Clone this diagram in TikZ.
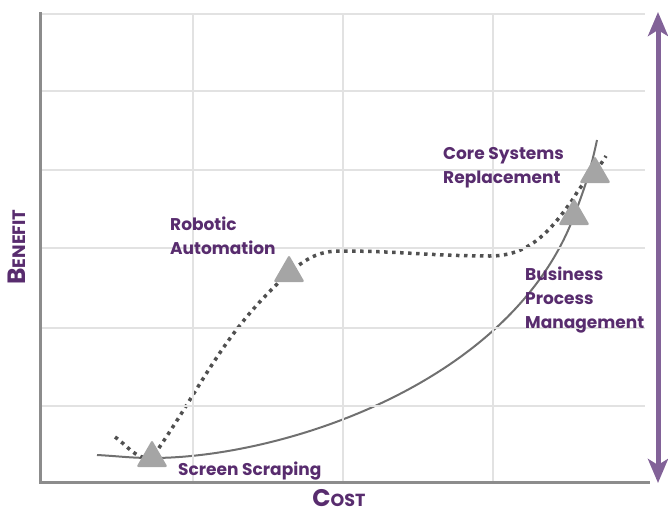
\documentclass[tikz,border=0pt]{standalone}
\usepackage{fontspec}
\setmainfont{Poppins}
\usetikzlibrary{arrows.meta,shapes.geometric}
\pgfdeclarelayer{bg}
\pgfsetlayers{bg,main}

\definecolor{plum}{RGB}{88,44,110}
\definecolor{arrowplum}{RGB}{130,98,152}
\definecolor{gridgray}{RGB}{226,226,226}
\definecolor{axisgray}{RGB}{140,140,140}
\definecolor{curvegray}{RGB}{112,112,112}
\definecolor{dotgray}{RGB}{80,80,80}
\definecolor{markgray}{RGB}{165,165,165}

\begin{document}
\begin{tikzpicture}[x=1pt,y=-1pt]
\tikzstyle{every node}=[font=\bfseries\fontsize{17}{24}\selectfont, text=plum]
\tikzstyle{grid line}=[gridgray, line width=2pt]
\tikzstyle{axis}=[axisgray, line width=3pt]
\tikzstyle{milestone}=[regular polygon, regular polygon sides=3, minimum size=36pt,
  inner sep=0pt, fill=markgray, rounded corners=2pt]
\tikzstyle{tag}=[align=left, inner sep=0pt]

\useasboundingbox (0,0) rectangle (668,513);

% grid
\foreach \y in {14,91,170,248,328,406}
  \draw[grid line] (40,\y) -- (645,\y);
\foreach \x in {193,343,493}
  \draw[grid line] (\x,14) -- (\x,482);

% axes
\draw[axis] (40,12.5) -- (40,482) -- (650,482);

\node[rotate=90, anchor=base, font=\bfseries\fontsize{25}{25}\selectfont] (benefit) at (25,247)
  {B{\fontsize{18}{18}\selectfont ENEFIT}};
\node[anchor=base, font=\bfseries\fontsize{24}{24}\selectfont] (cost) at (339,506)
  {C{\fontsize{17.5}{17.5}\selectfont OST}};

% milestones
\node[milestone] (scrape) at (152,458) {};
\node[milestone] (robot) at (289,273) {};
\node[milestone] (bpm) at (574,216) {};
\node[milestone] (core) at (595,174) {};

\node[tag, anchor=base west] (scrape-tag) at (178,475) {Screen Scraping};
\node[tag, anchor=north west] (robot-tag) at (170,217) {Robotic\\Automation};
\node[tag, anchor=north west] (core-tag) at (443,147) {Core Systems\\Replacement};
\node[tag, anchor=north west] (bpm-tag) at (525,267) {Business\\Process\\Management};

% curves
\coordinate (cost-start) at (97,455);
\coordinate (cost-end) at (597,140);
\coordinate (auto-start) at (115,437);
\coordinate (plateau-a) at (340,251);
\coordinate (plateau-b) at (490,256);
\coordinate (auto-end) at (606,156);

\begin{pgfonlayer}{bg}
\draw[curvegray, line width=2pt] (cost-start) to[out=-3,in=180] (scrape.center)
  .. controls +(128,0) and +(-64,169) .. (bpm.center)
  to[out=69,in=258] (cost-end);
\draw[dotgray, line width=3.5pt, dash pattern=on 3.5pt off 4.5pt] (auto-start)
  to[out=-35,in=185] (scrape.center) to[out=55,in=222] (robot.center)
  to[out=40,in=180] (plateau-a) to[out=0,in=180] (plateau-b)
  to[out=0,in=235] (bpm.north) to[out=62,in=240] (auto-end);
\end{pgfonlayer}

% scale arrow
\coordinate (scale-top) at (658,12);
\coordinate (scale-bottom) at (658,483);
\draw[arrowplum, line width=5pt,
  {Stealth[length=24pt,width=20pt,inset=6pt]}-{Stealth[length=24pt,width=20pt,inset=6pt]}]
  (scale-bottom) -- (scale-top);

\end{tikzpicture}
\end{document}
